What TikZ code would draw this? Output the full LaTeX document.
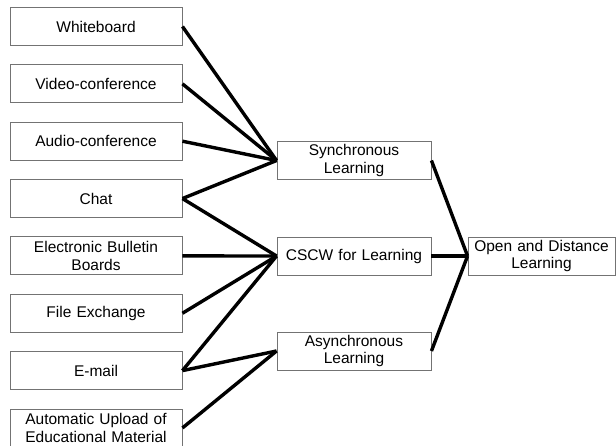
\documentclass[tikz,border=0pt]{standalone}
\usepackage{fontspec}
\setmainfont{Liberation Sans}
\begin{document}
\begin{tikzpicture}[x=1pt,y=-1pt,
  box/.style={draw=black!55,line width=0.9pt,fill=white,rectangle,inner sep=0pt,
    minimum height=38pt,align=center,font=\fontsize{15.5}{17.5}\selectfont},
  lbox/.style={box,minimum width=172pt,text width=168pt},
  mbox/.style={box,minimum width=154pt,text width=150pt},
  link/.style={line width=3.4pt,black}]
\useasboundingbox (0,0) rectangle (616,445);
\node[lbox] (wb) at (96,26.5) {Whiteboard};
\node[lbox] (vc) at (96,83.85) {Video-conference};
\node[lbox] (ac) at (96,141.2) {Audio-conference};
\node[lbox] (ch) at (96,198.55) {Chat};
\node[lbox] (eb) at (96,255.9) {Electronic Bulletin\\Boards};
\node[lbox] (fe) at (96,313.25) {File Exchange};
\node[lbox] (em) at (96,370.6) {E-mail};
\node[lbox] (au) at (96,427.95) {Automatic Upload of\\Educational Material};
\node[mbox] (sy) at (354,160.5) {Synchronous\\Learning};
\node[mbox] (cs) at (354,256) {CSCW for Learning};
\node[mbox] (as) at (354,351) {Asynchronous\\Learning};
\node[box,minimum width=147pt,text width=145pt] (od) at (541.5,256) {Open and Distance\\Learning};
\draw[link] (wb.east) -- (sy.west);
\draw[link] (vc.east) -- (sy.west);
\draw[link] (ac.east) -- (sy.west);
\draw[link] (ch.east) -- (sy.west);
\draw[link] (ch.east) -- (cs.west);
\draw[link] (eb.east) -- (cs.west);
\draw[link] (fe.east) -- (cs.west);
\draw[link] (em.east) -- (cs.west);
\draw[link] (em.east) -- (as.west);
\draw[link] (au.east) -- (as.west);
\draw[link] (sy.east) -- (od.west);
\draw[link] (cs.east) -- (od.west);
\draw[link] (as.east) -- (od.west);
\end{tikzpicture}
\end{document}
